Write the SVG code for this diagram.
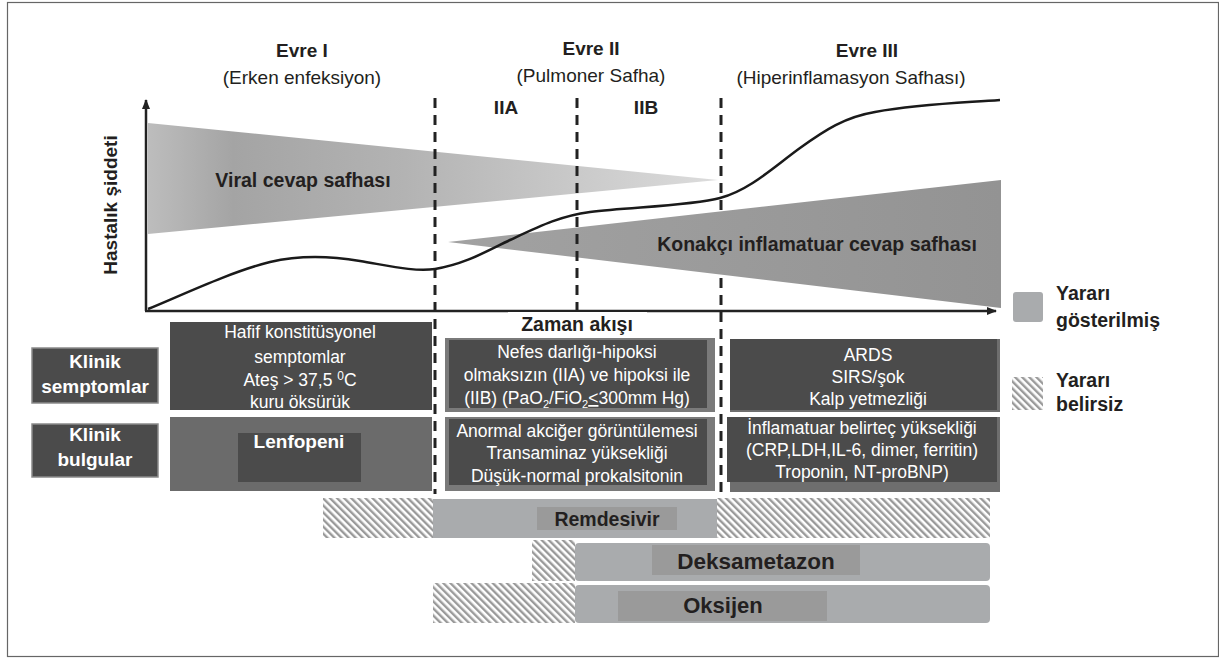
<svg xmlns="http://www.w3.org/2000/svg" width="1219" height="659" viewBox="0 0 1219 659">
<defs>
<style>
text{font-family:"Liberation Sans",Arial,sans-serif;fill:#231f20}
.b{font-weight:bold}
.h{font-size:19px;text-anchor:middle}
.bx{font-size:17.5px;text-anchor:middle;fill:#ffffff}
.lab{font-size:19px;font-weight:bold;text-anchor:middle;fill:#ffffff}
.dark{fill:#4b4b4b}
.bar{fill:#a9abad}
.tag{fill:#9a9a9a}
.dash{stroke:#222;stroke-width:3;stroke-dasharray:10 7;fill:none}
.ax{stroke:#222;stroke-width:2.5;fill:none}
</style>
<pattern id="hatch" patternUnits="userSpaceOnUse" width="5" height="5" patternTransform="rotate(-45)">
<rect x="0" y="0" width="5" height="5" fill="#ffffff"/>
<rect x="0" y="0" width="2.4" height="5" fill="#9a9a9a"/>
</pattern>
<linearGradient id="viral" x1="148" y1="0" x2="718" y2="0" gradientUnits="userSpaceOnUse">
<stop offset="0" stop-color="#bdbdbd"/>
<stop offset="0.15" stop-color="#a4a4a4"/>
<stop offset="0.45" stop-color="#b3b3b3"/>
<stop offset="1" stop-color="#dcdcdc"/>
</linearGradient>
<linearGradient id="host" x1="448" y1="0" x2="1001" y2="0" gradientUnits="userSpaceOnUse">
<stop offset="0" stop-color="#a2a2a2"/>
<stop offset="1" stop-color="#939393"/>
</linearGradient>
<marker id="arr" viewBox="0 0 10 10" refX="9" refY="5" markerWidth="4" markerHeight="4" orient="auto">
<path d="M0,1 L10,5 L0,9 Z" fill="#222"/>
</marker>
</defs>
<rect x="0" y="0" width="1219" height="659" fill="#ffffff"/>
<rect x="7.5" y="2.5" width="1211" height="654" fill="none" stroke="#666" stroke-width="1.2"/>

<g id="wedge-viral">
<polygon points="148,123 718,180 148,234" fill="url(#viral)"/>
</g>
<g id="wedge-host">
<polygon points="448,242 1001,180 1001,308" fill="url(#host)"/>
</g>

<g id="connectors">
<line class="ax" x1="146" y1="311" x2="146" y2="100" marker-end="url(#arr)"/>
<line class="ax" x1="145" y1="311" x2="996" y2="311" marker-end="url(#arr)"/>
<line class="dash" x1="435" y1="98" x2="435" y2="494"/>
<line class="dash" x1="577" y1="98" x2="577" y2="316"/>
<line class="dash" x1="721" y1="98" x2="721" y2="211"/>
<line class="dash" x1="721" y1="278" x2="721" y2="494"/>
<path d="M148,309 C180,296 230,272 270,262 C300,255 330,256 360,261 C390,266 415,272 435,269 C465,264 485,252 510,240 C540,226 560,216 590,212 C630,207 690,206 720,198 C750,190 775,166 800,148 C825,130 845,117 875,112 C920,104 960,103 1000,100" fill="none" stroke="#1a1a1a" stroke-width="2.5"/>
</g>

<g id="label-viral">
<text class="b" x="303" y="187" font-size="19.5" text-anchor="middle">Viral cevap safhası</text>
</g>
<g id="label-host">
<text class="b" x="817" y="251" font-size="19.5" text-anchor="middle">Konakçı inflamatuar cevap safhası</text>
</g>

<g id="axis-y-label">
<text class="b" transform="translate(117,205) rotate(-90)" font-size="19" text-anchor="middle">Hastalık şiddeti</text>
</g>
<g id="axis-x-label">
<rect x="508" y="312" width="139" height="25" fill="#ffffff"/>
<text class="b" x="577" y="331" font-size="19.5" text-anchor="middle">Zaman akışı</text>
</g>

<g id="stage1">
<text class="b h" x="302" y="57">Evre I</text>
<text class="h" x="302" y="84">(Erken enfeksiyon)</text>
</g>
<g id="stage2">
<text class="b h" x="591" y="55">Evre II</text>
<text class="h" x="591" y="82">(Pulmoner Safha)</text>
<text class="b h" x="506" y="114">IIA</text>
<text class="b h" x="646" y="114">IIB</text>
</g>
<g id="stage3">
<text class="b h" x="867" y="57">Evre III</text>
<text class="h" x="851" y="84">(Hiperinflamasyon Safhası)</text>
</g>

<g id="label-symptoms">
<rect x="32" y="348" width="126" height="55" class="dark" stroke="#8a8a8a" stroke-width="1.5"/>
<text class="lab" x="95" y="368">Klinik</text>
<text class="lab" x="95" y="393">semptomlar</text>
</g>
<g id="label-findings">
<rect x="32" y="424" width="126" height="53" class="dark" stroke="#8a8a8a" stroke-width="1.5"/>
<text class="lab" x="95" y="441">Klinik</text>
<text class="lab" x="95" y="466">bulgular</text>
</g>

<g id="s1-symptoms">
<rect x="170" y="322" width="262" height="88" class="dark"/>
<text class="bx" x="300" y="338">Hafif konstitüsyonel</text>
<text class="bx" x="300" y="363">semptomlar</text>
<text class="bx" x="300" y="386">Ateş &gt; 37,5 <tspan font-size="12" dy="-6">0</tspan><tspan dy="6">C</tspan></text>
<text class="bx" x="300" y="408">kuru öksürük</text>
</g>
<g id="s1-findings">
<rect x="170" y="417" width="262" height="74" fill="#6b6b6b"/>
<rect x="238" y="433" width="123" height="49" class="dark"/>
<text class="lab" x="299" y="448" font-size="20">Lenfopeni</text>
</g>

<g id="s2-symptoms">
<rect x="445" y="338" width="270" height="74" fill="#7a7a7a"/>
<rect x="449" y="340" width="258" height="68" class="dark"/>
<text class="bx" x="577" y="358">Nefes darlığı-hipoksi</text>
<text class="bx" x="577" y="381">olmaksızın (IIA) ve hipoksi ile</text>
<text class="bx" x="577" y="404">(IIB) (PaO<tspan font-size="11" dy="4">2</tspan><tspan dy="-4">/FiO</tspan><tspan font-size="11" dy="4">2</tspan><tspan dy="-4" text-decoration="underline">&lt;</tspan>300mm Hg)</text>
</g>
<g id="s2-findings">
<rect x="445" y="417" width="270" height="74" fill="#7a7a7a"/>
<rect x="449" y="419" width="258" height="66" class="dark"/>
<text class="bx" x="577" y="437">Anormal akciğer görüntülemesi</text>
<text class="bx" x="577" y="459">Transaminaz yüksekliği</text>
<text class="bx" x="577" y="482">Düşük-normal prokalsitonin</text>
</g>

<g id="s3-symptoms">
<rect x="730" y="339" width="270" height="73" fill="#6e6e6e"/>
<rect x="730" y="339" width="267" height="71" class="dark"/>
<text class="bx" x="868" y="361">ARDS</text>
<text class="bx" x="868" y="383">SIRS/şok</text>
<text class="bx" x="868" y="405">Kalp yetmezliği</text>
</g>
<g id="s3-findings">
<rect x="730" y="417" width="270" height="75" fill="#6e6e6e"/>
<rect x="727" y="417" width="270" height="65" class="dark"/>
<text class="bx" x="862" y="434">İnflamatuar belirteç yüksekliği</text>
<text class="bx" x="862" y="456">(CRP,LDH,IL-6, dimer, ferritin)</text>
<text class="bx" x="862" y="478">Troponin, NT-proBNP)</text>
</g>

<g id="remdesivir">
<rect x="323" y="498" width="110" height="40" fill="url(#hatch)"/>
<rect x="433" y="499" width="284" height="39" class="bar"/>
<rect x="717" y="498" width="273" height="40" fill="url(#hatch)"/>
<rect x="537" y="507" width="140" height="23" class="tag"/>
<text class="b" x="607" y="526" font-size="19.5" text-anchor="middle">Remdesivir</text>
</g>
<g id="deksametazon">
<rect x="532" y="540" width="43" height="41" fill="url(#hatch)"/>
<rect x="575" y="543" width="415" height="38" rx="4" class="bar"/>
<rect x="652" y="545" width="208" height="30" class="tag"/>
<text class="b" x="756" y="569" font-size="22.5" text-anchor="middle">Deksametazon</text>
</g>
<g id="oksijen">
<rect x="433" y="583" width="142" height="40" fill="url(#hatch)"/>
<rect x="575" y="585" width="415" height="38" rx="4" class="bar"/>
<rect x="618" y="591" width="209" height="30" class="tag"/>
<text class="b" x="723" y="613" font-size="22" text-anchor="middle">Oksijen</text>
</g>

<g id="legend-proven">
<rect x="1013" y="292" width="30" height="30" rx="3" class="bar"/>
<text class="b" x="1056" y="300" font-size="19.5">Yararı</text>
<text class="b" x="1056" y="327" font-size="19.5">gösterilmiş</text>
</g>
<g id="legend-uncertain">
<rect x="1012" y="377" width="31" height="33" fill="url(#hatch)"/>
<text class="b" x="1056" y="387" font-size="19.5">Yararı</text>
<text class="b" x="1056" y="411" font-size="19.5">belirsiz</text>
</g>
</svg>
